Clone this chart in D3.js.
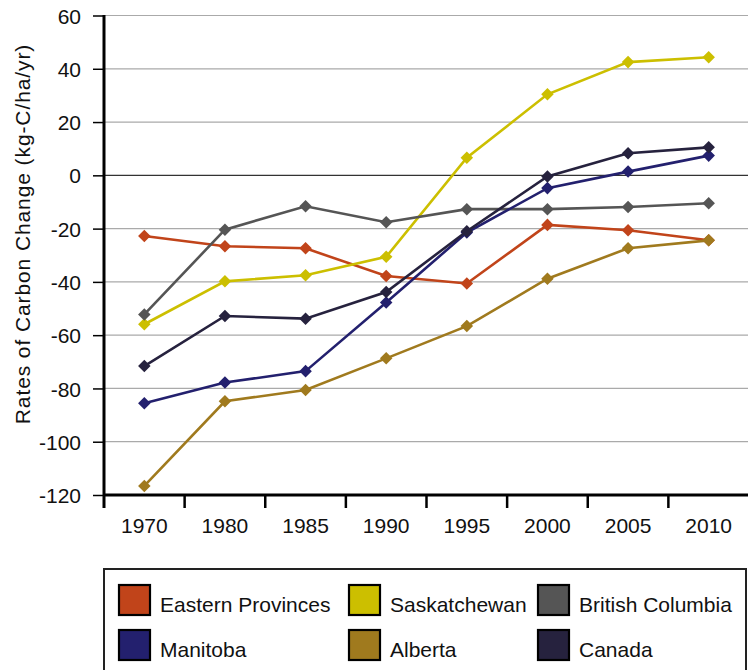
<!DOCTYPE html>
<html><head><meta charset="utf-8">
<script src="https://cdn.jsdelivr.net/npm/d3@7"></script>
<style>body{margin:0;background:#fff}svg{display:block}</style>
</head><body>
<script>
const years = ["1970","1980","1985","1990","1995","2000","2005","2010"];
const yTicks = [60,40,20,0,-20,-40,-60,-80,-100,-120];
const eastern = [-22.8,-26.6,-27.4,-37.8,-40.6,-18.6,-20.6,-24.4];
const saskatchewan = [-55.9,-39.8,-37.5,-30.6,6.6,30.4,42.5,44.3];
const britishColumbia = [-52.2,-20.4,-11.6,-17.6,-12.7,-12.7,-11.9,-10.5];
const manitoba = [-85.6,-77.8,-73.5,-47.7,-21.5,-4.8,1.4,7.4];
const alberta = [-116.6,-84.8,-80.6,-68.7,-56.6,-38.8,-27.4,-24.4];
const canada = [-71.6,-52.8,-53.8,-43.8,-21.0,-0.4,8.3,10.5];
const seriesNames = ["Eastern Provinces","Saskatchewan","British Columbia","Manitoba","Alberta","Canada"];
const seriesColors = ["#C1441A","#CCBF00","#555555","#23206E","#A07A1E","#26223E"];
const seriesValues = [eastern,saskatchewan,britishColumbia,manitoba,alberta,canada];

const W=748,H=670;
const font = "'Liberation Sans', Arial, sans-serif";
const svg = d3.select("body").append("svg").attr("width",W).attr("height",H);
const x = d3.scaleBand().domain(years).range([104,749]);
const y = d3.scaleLinear().domain([-120,60]).range([495,15.5]);

// gridlines
svg.append("g").selectAll("line").data(yTicks).join("line")
  .attr("x1",104).attr("x2",748).attr("y1",d=>y(d)).attr("y2",d=>y(d))
  .attr("stroke",d=>d===0?"#333":"#aaa").attr("stroke-width",1.2);

// y axis
const ya = svg.append("g").attr("transform","translate(104,0)")
  .call(d3.axisLeft(y).tickValues(yTicks).tickSize(11).tickPadding(12).tickFormat(d=>String(d)));
ya.select(".domain").remove();
ya.selectAll(".tick line").attr("stroke","#000").attr("stroke-width",1.5);
ya.selectAll("text").attr("font-family",font).attr("font-size",21)
  .attr("fill","#111").attr("dy","0.36em");
svg.append("line").attr("x1",104).attr("x2",104).attr("y1",15).attr("y2",508)
  .attr("stroke","#000").attr("stroke-width",3);

// x axis
const xa = svg.append("g").attr("transform","translate(0,495)")
  .call(d3.axisBottom(x).tickSize(0).tickPadding(0));
xa.select(".domain").remove();
xa.selectAll("text").attr("font-family",font).attr("font-size",21)
  .attr("fill","#111").attr("dy",null).attr("y",38);
svg.append("line").attr("x1",103).attr("x2",748).attr("y1",495).attr("y2",495)
  .attr("stroke","#000").attr("stroke-width",3);
svg.append("g").selectAll("line").data(years.slice(1)).join("line")
  .attr("x1",d=>x(d)).attr("x2",d=>x(d)).attr("y1",495).attr("y2",508)
  .attr("stroke","#000").attr("stroke-width",2.5);

// y label
svg.append("text").attr("transform","translate(30,234) rotate(-90)")
  .attr("text-anchor","middle").attr("font-family",font).attr("font-size",21)
  .attr("letter-spacing",0.9).attr("fill","#111")
  .text("Rates of Carbon Change (kg-C/ha/yr)");

// lines
const line = d3.line().x((d,i)=>x(years[i])+x.bandwidth()/2).y(d=>y(d));
const diamond = d3.symbol().type(d3.symbolDiamond2 || d3.symbolDiamond).size(d3.symbolDiamond2 ? 100 : 60);
seriesValues.forEach((vals,k)=>{
  const g = svg.append("g");
  g.append("path").attr("d",line(vals)).attr("fill","none")
    .attr("stroke",seriesColors[k]).attr("stroke-width",2.6);
  g.selectAll("path.pt").data(vals).join("path").attr("class","pt")
    .attr("d",diamond).attr("fill",seriesColors[k])
    .attr("transform",(d,i)=>`translate(${x(years[i])+x.bandwidth()/2},${y(d)})`);
});

// legend
svg.append("rect").attr("x",104).attr("y",569).attr("width",642).attr("height",120)
  .attr("fill","none").attr("stroke","#222").attr("stroke-width",2);
const legX=[119,349,538], legY=[585,630];
seriesNames.forEach((n,i)=>{
  const cx=legX[i%3], cy=legY[Math.floor(i/3)];
  svg.append("rect").attr("x",cx).attr("y",cy).attr("width",31).attr("height",30)
    .attr("fill",seriesColors[i]).attr("stroke","#000").attr("stroke-width",2.2);
  svg.append("text").attr("x",cx+41).attr("y",cy+27).attr("font-family",font)
    .attr("font-size",21).attr("fill","#111").text(n);
});
</script>
</body></html>
